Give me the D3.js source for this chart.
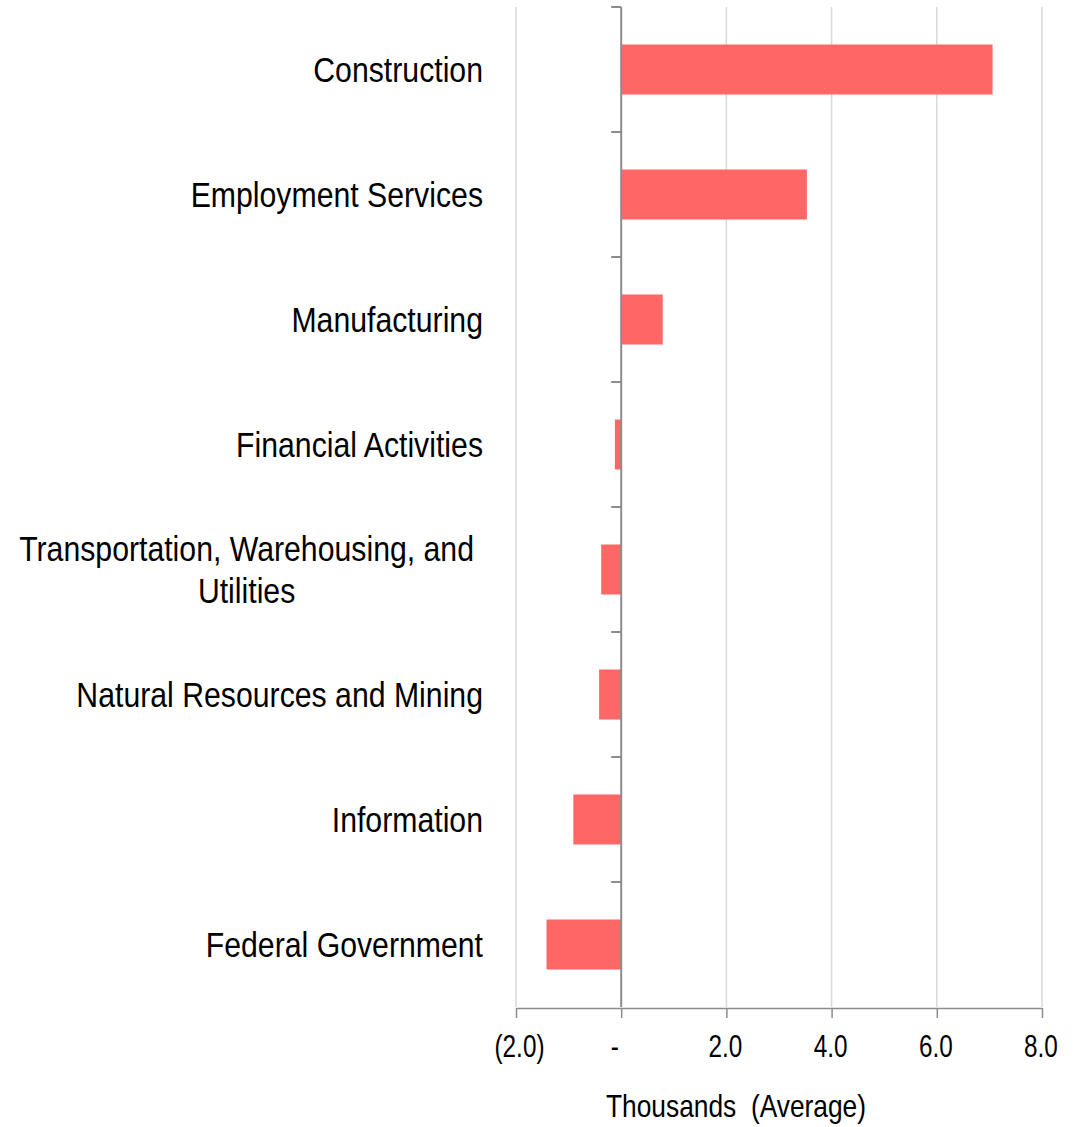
<!DOCTYPE html>
<html lang="en">
<head>
  <meta charset="UTF-8" />
  <title>Employment change by industry</title>
  <script src="https://d3js.org/d3.v7.min.js"></script>
  <style>
    body { margin: 0; background: #fff; }
    text { font-family: "Liberation Sans", Arial, sans-serif; fill: #000; }
  </style>
</head>
<body>
  <svg id="chart" width="1076" height="1127"></svg>
  <script>
    // industries, top to bottom
    const categories = [
      "Construction",
      "Employment Services",
      "Manufacturing",
      "Financial Activities",
      "Transportation, Warehousing, and|Utilities",
      "Natural Resources and Mining",
      "Information",
      "Federal Government"
    ];
    // thousands (average)
    const values = [7.06, 3.53, 0.79, -0.12, -0.38, -0.42, -0.91, -1.42];
    const xTicks = [-2, 0, 2, 4, 6, 8];

    const svg = d3.select("#chart");
    const plotLeft = 516, plotRight = 1042, plotTop = 7, plotBottom = 1007;

    const x = d3.scaleLinear().domain([-2, 8]).range([plotLeft, plotRight]);
    const y = d3.scaleBand().domain(categories).range([plotTop, plotBottom]).paddingInner(0.6).paddingOuter(0.3);

    // the original uses a narrow face; squeeze Liberation Sans horizontally
    function narrowText(px, py, size, sx, anchor, str) {
      return svg.append("text")
        .attr("transform", `translate(${px},${py}) scale(${sx},1)`)
        .attr("text-anchor", anchor)
        .style("font-size", size + "px")
        .style("white-space", "pre")
        .text(str);
    }

    // gridlines
    svg.selectAll(".grid")
      .data(xTicks.filter(d => d !== 0))
      .enter()
      .append("line")
      .attr("x1", d => x(d))
      .attr("x2", d => x(d))
      .attr("y1", plotTop)
      .attr("y2", plotBottom)
      .style("stroke", "#d9d9d9")
      .style("stroke-width", 1.5);

    // bars
    svg.selectAll(".bar")
      .data(values)
      .enter()
      .append("rect")
      .attr("x", d => x(Math.min(0, d)))
      .attr("width", d => Math.abs(x(d) - x(0)))
      .attr("y", (d, i) => y(categories[i]))
      .attr("height", y.bandwidth())
      .style("fill", "#ff6666");

    // zero line with category ticks
    const step = y.step();
    svg.append("line")
      .attr("x1", x(0)).attr("x2", x(0))
      .attr("y1", plotTop).attr("y2", plotBottom)
      .style("stroke", "#8c8c8c")
      .style("stroke-width", 2);
    svg.selectAll(".ctick")
      .data(d3.range(categories.length))
      .enter()
      .append("line")
      .attr("x1", x(0) - 10)
      .attr("x2", x(0))
      .attr("y1", i => plotTop + i * step)
      .attr("y2", i => plotTop + i * step)
      .style("stroke", "#8c8c8c")
      .style("stroke-width", 2);

    // bottom axis
    const fmt = d => d < 0 ? `(${d3.format(".1f")(-d)})` : d === 0 ? "-" : d3.format(".1f")(d);
    const axis = svg.append("g")
      .attr("transform", `translate(0,${plotBottom + 1})`)
      .call(d3.axisBottom(x).tickValues(xTicks).tickFormat(fmt).tickSize(10).tickPadding(16).tickSizeOuter(0));
    axis.select(".domain").style("stroke", "#8c8c8c").style("stroke-width", 1.5);
    axis.selectAll(".tick line").style("stroke", "#8c8c8c").style("stroke-width", 1.5);
    axis.selectAll(".tick text")
      .style("font-size", "32px")
      .style("font-family", "'Liberation Sans', Arial, sans-serif")
      .attr("fill", "#000")
      .attr("transform", d => `translate(${d < 0 ? 3 : d === 0 ? -7 : -1.5},0) scale(0.76,1)`);

    // category labels
    const labelX = 483, labelSize = 36, labelSx = 0.84;
    categories.forEach((c, i) => {
      const cy = y(c) + y.bandwidth() / 2;
      const lines = c.split("|");
      if (lines.length === 1) {
        narrowText(labelX, cy + 12.5, labelSize, labelSx, "end", c);
      } else {
        const t1 = narrowText(0, 0, labelSize, labelSx, "middle", lines[0]);
        const w = t1.node().getComputedTextLength() * labelSx;
        const cx = labelX - 9 - w / 2;
        t1.attr("transform", `translate(${cx},${cy - 8.5}) scale(${labelSx},1)`);
        narrowText(cx, cy + 33.5, labelSize, labelSx, "middle", lines[1]);
      }
    });

    // axis title
    narrowText(736, 1117, 31, 0.85, "middle", "Thousands  (Average)");
  </script>
</body>
</html>
